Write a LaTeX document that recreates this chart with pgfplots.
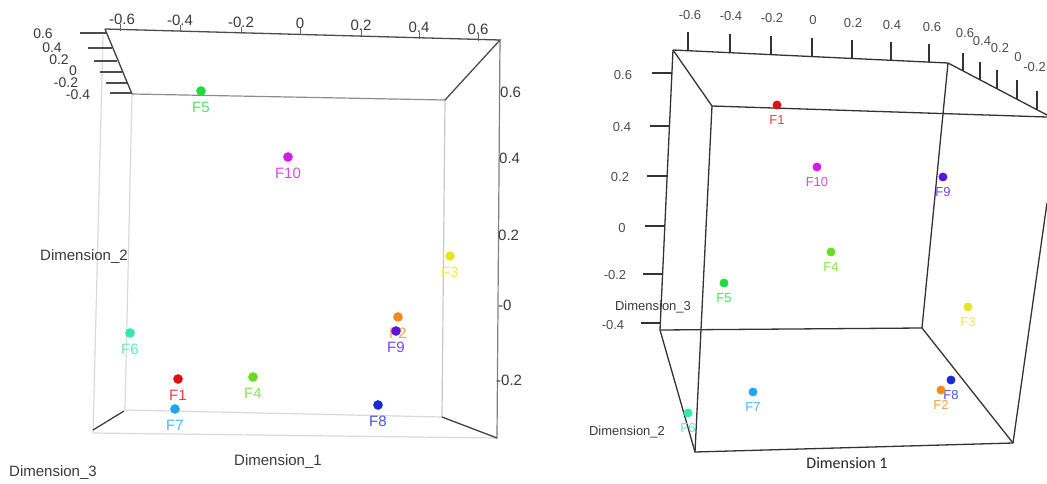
\documentclass[border=0pt]{standalone}
\usepackage{pgfplots}
\pgfplotsset{compat=1.18}
\usepackage{fontspec}
\setmainfont{Liberation Sans}
\newfontfamily\calibri{Carlito}
\definecolor{cF1}{HTML}{E01010}
\definecolor{cF2}{HTML}{F08C1C}
\definecolor{cF3}{HTML}{E6E61E}
\definecolor{cF4}{HTML}{66DD22}
\definecolor{cF5}{HTML}{20DC38}
\definecolor{cF6}{HTML}{34E8AE}
\definecolor{cF7}{HTML}{1EA6F0}
\definecolor{cF8}{HTML}{1A28D8}
\definecolor{cF9}{HTML}{5A14DC}
\definecolor{cF10}{HTML}{D01CE6}
\definecolor{txt}{HTML}{3A3A3A}
\newcommand{\ptL}[4]{\addplot[only marks, mark=*, mark size=4.6, color=#1, nodes near coords, point meta=explicit symbolic,
  nodes near coords style={anchor=center, yshift=-16bp, text=#1!80!white, font=\fontsize{15bp}{17bp}\selectfont}] coordinates {(#2,#3) [#4]};}
\newcommand{\ptR}[4]{\addplot[only marks, mark=*, mark size=4.2, color=#1, nodes near coords, point meta=explicit symbolic,
  nodes near coords style={anchor=center, yshift=-15bp, text=#1!80!white, font=\fontsize{13bp}{15bp}\selectfont}] coordinates {(#2,#3) [#4]};}
\begin{document}
\begin{tikzpicture}
\useasboundingbox (0,0) rectangle (1047bp,484bp);
\clip (0,0) rectangle (1047bp,484bp);
\begin{axis}[
  scale only axis, width=1047bp, height=484bp,
  xmin=0, xmax=1047, ymin=0, ymax=484, y dir=reverse,
  hide axis, clip=false,
]
% ---------------- left panel box ----------------
\addplot[no marks, draw=black!15, line width=1.2bp] coordinates {(103,35) (93,433)};
\addplot[no marks, draw=black!15, line width=1.2bp] coordinates {(132,94) (125,410) (442,417)};
\addplot[no marks, draw=black!15, line width=1.2bp] coordinates {(93,433) (497,438)};
\addplot[no marks, draw=black!22, line width=1.2bp] coordinates {(445,100) (442,417)};
\addplot[no marks, draw=black!45, line width=1.2bp] coordinates {(132,94) (445,100)};
\addplot[no marks, draw=black!50, line width=1.2bp] coordinates {(500,40) (497,438)};
\addplot[no marks, draw=black!70, line width=1.3bp] coordinates {(105,29) (500,40) (445,100)};
\addplot[no marks, draw=black!75, line width=1.3bp] coordinates {(105,29) (132,94)};
\addplot[no marks, draw=black!75, line width=1.3bp] coordinates {(442,417) (497,438)};
\addplot[no marks, draw=black!75, line width=1.3bp] coordinates {(93,430) (124,411)};
% left-panel ticks on the depth axis
\addplot[no marks, draw=black!70, line width=1.2bp] coordinates {(80,33) (106,33)};
\addplot[no marks, draw=black!70, line width=1.2bp] coordinates {(88,48) (112,48)};
\addplot[no marks, draw=black!70, line width=1.2bp] coordinates {(94,61) (117,61)};
\addplot[no marks, draw=black!70, line width=1.2bp] coordinates {(100,72) (122,72)};
\addplot[no marks, draw=black!70, line width=1.2bp] coordinates {(106,83) (127,83)};
\addplot[no marks, draw=black!70, line width=1.2bp] coordinates {(110,93) (132,93)};
% top ticks
\addplot[no marks, draw=black!60, line width=1bp] coordinates {(120,24) (120,31)};
\addplot[no marks, draw=black!60, line width=1bp] coordinates {(180,25) (180,32)};
\addplot[no marks, draw=black!60, line width=1bp] coordinates {(241,27) (241,34)};
\addplot[no marks, draw=black!60, line width=1bp] coordinates {(300,28) (300,35)};
\addplot[no marks, draw=black!60, line width=1bp] coordinates {(361,30) (361,37)};
\addplot[no marks, draw=black!60, line width=1bp] coordinates {(419,32) (419,39)};
\addplot[no marks, draw=black!60, line width=1bp] coordinates {(478,34) (478,41)};
% left-panel text
\begin{scope}[every node/.style={font=\fontsize{15bp}{17bp}\selectfont, text=txt, inner sep=0pt}]
\node at (axis cs:122,19) {-0.6};
\node at (axis cs:180,20) {-0.4};
\node at (axis cs:241,22) {-0.2};
\node at (axis cs:300,23) {0};
\node at (axis cs:361,25) {0.2};
\node at (axis cs:419,27) {0.4};
\node at (axis cs:478,29) {0.6};
\node[font=\fontsize{14bp}{16bp}\selectfont] at (axis cs:43,34) {0.6};
\node[font=\fontsize{14bp}{16bp}\selectfont] at (axis cs:52,48) {0.4};
\node[font=\fontsize{14bp}{16bp}\selectfont] at (axis cs:59,60) {0.2};
\node[font=\fontsize{14bp}{16bp}\selectfont] at (axis cs:73,71) {0};
\node[font=\fontsize{14bp}{16bp}\selectfont] at (axis cs:66,83) {-0.2};
\node[font=\fontsize{14bp}{16bp}\selectfont] at (axis cs:78,95) {-0.4};
\node[anchor=west] at (axis cs:500,92) {0.6};
\node[anchor=west] at (axis cs:499,158) {0.4};
\node[anchor=west] at (axis cs:498,235) {0.2};
\node[anchor=west] at (axis cs:498,305) {-0};
\node[anchor=west] at (axis cs:496,380) {-0.2};
\node at (axis cs:84,257) {Dimension\_2};
\node at (axis cs:278,462) {Dimension\_1};
\node at (axis cs:53,473) {Dimension\_3};
\end{scope}
% left-panel points
\ptL{cF5}{201}{91}{F5}
\ptL{cF10}{288}{157}{F10}
\ptL{cF3}{450}{256}{F3}
\ptL{cF2}{398}{317}{F2}
\ptL{cF9}{396}{331}{F9}
\ptL{cF6}{130}{333}{F6}
\ptL{cF1}{178}{379}{F1}
\ptL{cF4}{253}{377}{F4}
\ptL{cF7}{175}{409}{F7}
\ptL{cF8}{378}{405}{F8}
% ---------------- right panel box ----------------
\addplot[no marks, draw=black!80, line width=1.3bp] coordinates {(673,50) (948,63) (1047,115)};
\addplot[no marks, draw=black!80, line width=1.3bp] coordinates {(712,106) (1047,117)};
\addplot[no marks, draw=black!80, line width=1.3bp] coordinates {(673,50) (712,106) (695,452) (1013,443) (1047,203)};
\addplot[no marks, draw=black!80, line width=1.3bp] coordinates {(673,50) (660,330) (695,452)};
\addplot[no marks, draw=black!80, line width=1.3bp] coordinates {(660,330) (922,328) (1013,443)};
\addplot[no marks, draw=black!80, line width=1.3bp] coordinates {(948,63) (922,328)};
% top ticks
\addplot[no marks, draw=black!80, line width=1.2bp] coordinates {(688,51) (688,32)};
\addplot[no marks, draw=black!80, line width=1.2bp] coordinates {(730,53) (730,34)};
\addplot[no marks, draw=black!80, line width=1.2bp] coordinates {(771,55) (771,36)};
\addplot[no marks, draw=black!80, line width=1.2bp] coordinates {(812,57) (812,38)};
\addplot[no marks, draw=black!80, line width=1.2bp] coordinates {(852,58) (852,40)};
\addplot[no marks, draw=black!80, line width=1.2bp] coordinates {(891,60) (891,42)};
\addplot[no marks, draw=black!80, line width=1.2bp] coordinates {(929,62) (929,44)};
% diagonal ticks
\addplot[no marks, draw=black!80, line width=1.2bp] coordinates {(963,71) (963,53)};
\addplot[no marks, draw=black!80, line width=1.2bp] coordinates {(980,80) (980,62)};
\addplot[no marks, draw=black!80, line width=1.2bp] coordinates {(997,89) (997,70)};
\addplot[no marks, draw=black!80, line width=1.2bp] coordinates {(1017,99) (1017,80)};
\addplot[no marks, draw=black!80, line width=1.2bp] coordinates {(1037,110) (1037,91)};
% left ticks
\addplot[no marks, draw=black!80, line width=1.2bp] coordinates {(652,73) (672,73)};
\addplot[no marks, draw=black!80, line width=1.2bp] coordinates {(650,126) (670,126)};
\addplot[no marks, draw=black!80, line width=1.2bp] coordinates {(647,176) (667,176)};
\addplot[no marks, draw=black!80, line width=1.2bp] coordinates {(645,226) (665,226)};
\addplot[no marks, draw=black!80, line width=1.2bp] coordinates {(643,274) (663,274)};
\addplot[no marks, draw=black!80, line width=1.2bp] coordinates {(641,323) (661,323)};
% right-panel text
\begin{scope}[every node/.style={font=\fontsize{13bp}{15bp}\selectfont, text=black!70, inner sep=0pt}]
\node at (axis cs:690,15) {-0.6};
\node at (axis cs:731,16) {-0.4};
\node at (axis cs:772,18) {-0.2};
\node at (axis cs:813,20) {0};
\node at (axis cs:853,23) {0.2};
\node at (axis cs:892,25) {0.4};
\node at (axis cs:932,27) {0.6};
\node at (axis cs:965,33) {0.6};
\node at (axis cs:982,41) {0.4};
\node at (axis cs:1000,48) {0.2};
\node at (axis cs:1018,57) {0};
\node[anchor=east] at (axis cs:1046,67) {-0.2};
\node at (axis cs:623,75) {0.6};
\node at (axis cs:622,127) {0.4};
\node at (axis cs:620,177) {0.2};
\node at (axis cs:622,228) {0};
\node at (axis cs:615,275) {-0.2};
\node at (axis cs:613,325) {-0.4};
\node[text=txt] at (axis cs:653,307) {Dimension\_3};
\node[text=txt] at (axis cs:627,432) {Dimension\_2};
\node[text=black!85, font=\calibri\fontsize{16bp}{18bp}\selectfont] at (axis cs:847,463) {Dimension 1};
\end{scope}
% right-panel points
\ptR{cF1}{777}{105}{F1}
\ptR{cF10}{817}{167}{F10}
\ptR{cF9}{943}{177}{F9}
\ptR{cF4}{831}{252}{F4}
\ptR{cF5}{724}{283}{F5}
\ptR{cF3}{968}{307}{F3}
\ptR{cF7}{753}{392}{F7}
\ptR{cF6}{688}{413}{F6}
\ptR{cF8}{951}{380}{F8}
\ptR{cF2}{941}{390}{F2}
\addplot[draw=none, forget plot] coordinates {(0,0) (1047,484)};
\end{axis}
\end{tikzpicture}
\end{document}
